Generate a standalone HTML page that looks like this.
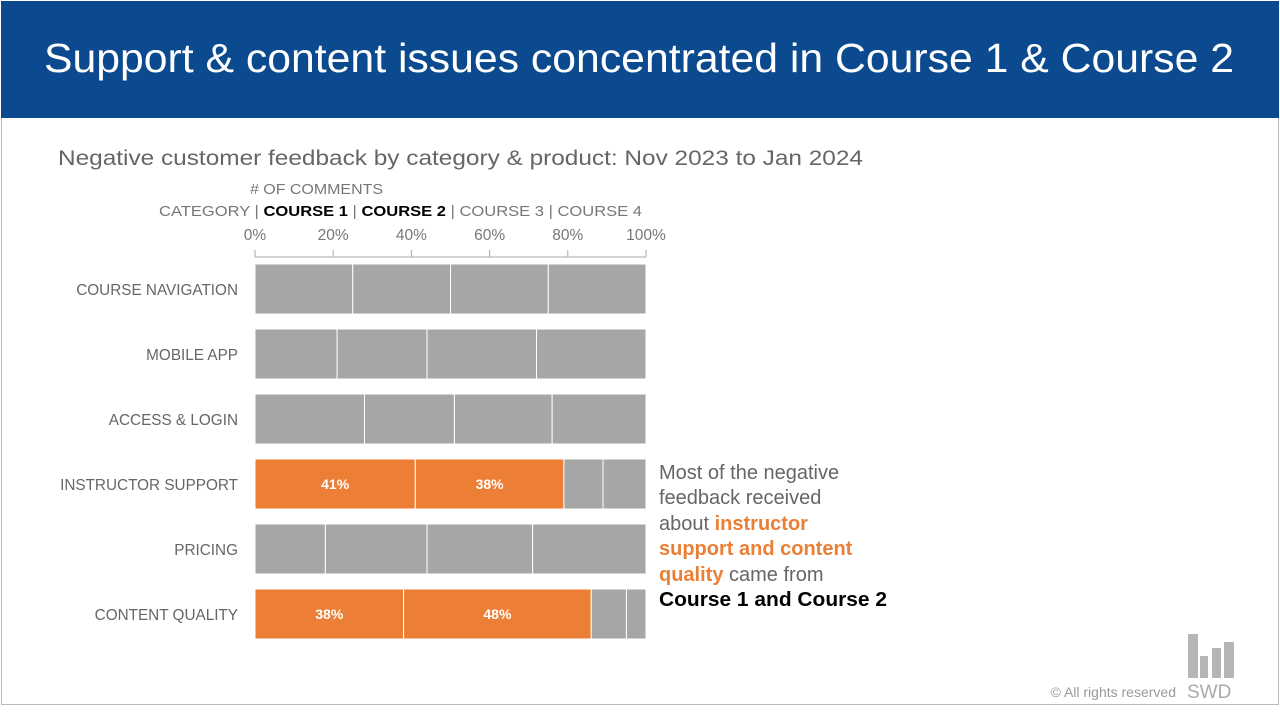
<!DOCTYPE html>
<html><head><meta charset="utf-8"><style>
body{margin:0;width:1280px;height:720px;background:#fff;font-family:"Liberation Sans",sans-serif;overflow:hidden}
</style></head><body>
<svg width="1280" height="720" style="position:absolute;left:0;top:0">
<rect x="1.5" y="1.5" width="1277" height="703" fill="#fff" stroke="#bbb"/>
<rect x="1" y="1" width="1278" height="117" fill="#0b4a8e"/>
<text x="44" y="72" fill="#fff" font-size="41" textLength="1190" lengthAdjust="spacingAndGlyphs">Support &amp; content issues concentrated in Course 1 &amp; Course 2</text>
<text x="58" y="165" fill="#666" font-size="21" textLength="805" lengthAdjust="spacingAndGlyphs">Negative customer feedback by category &amp; product: Nov 2023 to Jan 2024</text>
<text x="250" y="194" fill="#777" font-size="15" textLength="133" lengthAdjust="spacingAndGlyphs"># OF COMMENTS</text>
<text x="159" y="216" font-size="15" fill="#777" textLength="483" lengthAdjust="spacingAndGlyphs">CATEGORY <tspan fill="#777"> | </tspan><tspan fill="#000" font-weight="bold">COURSE 1</tspan><tspan> | </tspan><tspan fill="#000" font-weight="bold">COURSE 2</tspan><tspan> | COURSE 3 | COURSE 4</tspan></text>
<g id="axis"></g>
<g id="bars"></g>
<text font-size="20" fill="#666">
<tspan x="659" y="479">Most of the negative</tspan>
<tspan x="659" y="504">feedback received</tspan>
<tspan x="659" y="530">about <tspan fill="#ec7f35" font-weight="bold">instructor</tspan></tspan>
<tspan x="659" y="555" fill="#ec7f35" font-weight="bold">support and content</tspan>
<tspan x="659" y="581"><tspan fill="#ec7f35" font-weight="bold">quality</tspan> came from</tspan>
<tspan x="659" y="606" fill="#000" font-weight="bold" textLength="228" lengthAdjust="spacingAndGlyphs">Course 1 and Course 2</tspan>
</text>
<g fill="#b5b5b5">
<rect x="1188" y="634" width="10" height="44"/><rect x="1200" y="656" width="8" height="22"/><rect x="1212" y="648" width="9" height="30"/><rect x="1224" y="642" width="10" height="36"/>
<text x="1187" y="698" font-size="19" fill="#aaa">SWD</text>
</g>
<text x="1176" y="697" text-anchor="end" font-size="14" fill="#999">© All rights reserved</text>
</svg>
<script>
const categories=["COURSE NAVIGATION","MOBILE APP","ACCESS & LOGIN","INSTRUCTOR SUPPORT","PRICING","CONTENT QUALITY"];
const course1=[25,21,28,41,18,38];
const course2=[25,23,23,38,26,48];
const course3=[25,28,25,10,27,9];
const course4=[25,28,24,11,29,5];
const highlight=[false,false,false,true,false,true];
const ticks=[0,20,40,60,80,100];
const NS="http://www.w3.org/2000/svg";
const x0=255,x1=646,top0=264,step=65,bh=50;
const xs=v=>x0+(x1-x0)*v/100;
function mk(t,a,p){const e=document.createElementNS(NS,t);for(const k in a)e.setAttribute(k,a[k]);p.appendChild(e);return e;}
const ax=document.getElementById('axis');
mk('line',{x1:xs(0),x2:xs(100),y1:257,y2:257,stroke:'#aaa'},ax);
ticks.forEach(t=>{
 const l=mk('line',{x1:xs(t),x2:xs(t),y1:250,y2:257,stroke:'#aaa'},ax);
 
 
 const tx=mk('text',{x:xs(t),y:240,'text-anchor':'middle','font-size':15.5,fill:'#777','font-family':'Liberation Sans'},ax);
 tx.textContent=t+'%';
 
 
});
const g=document.getElementById('bars');
const series=[course1,course2,course3,course4];
categories.forEach((c,i)=>{
 const y=top0+i*step;
 const lb=mk('text',{x:238,y:y+bh/2+6,'text-anchor':'end','font-size':15.3,fill:'#666'},g);
 lb.textContent=c;
 
 
 let acc=0;
 series.forEach((s,j)=>{
  const v=s[i];const hl=highlight[i]&&j<2;
  const r=mk('rect',{x:xs(acc),y:y,width:xs(acc+v)-xs(acc),height:bh,fill:hl?'#ec7f35':'#a6a6a6',stroke:'#fff','stroke-width':1},g);
  
  
  if(hl){
   const t=mk('text',{x:(xs(acc)+xs(acc+v))/2,y:y+bh/2+5,'text-anchor':'middle','font-size':14,'font-weight':'bold',fill:'#fff'},g);
   t.textContent=v+'%';
   
   
  }
  acc+=v;
 });
});
</script>
</body></html>
